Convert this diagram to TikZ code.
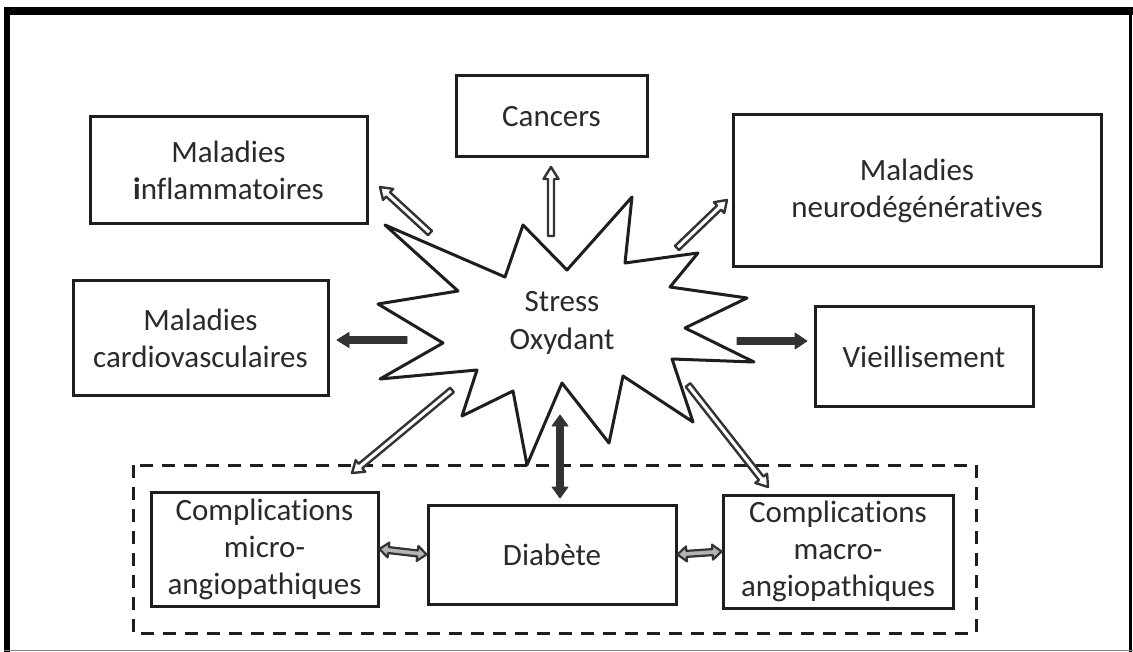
\documentclass[tikz,border=0pt]{standalone}
\usepackage{fontspec}
\setmainfont{Carlito}[Ligatures=NoCommon]
\usetikzlibrary{calc}
\definecolor{ink}{HTML}{1E1E1E}
\definecolor{txt}{HTML}{2A2A2A}
\definecolor{arrowink}{HTML}{333333}
\definecolor{arrowgray}{HTML}{B4B4B4}

% single-headed block arrow: #1 style, #2 tail, #3 tip, #4 half shaft, #5 half head, #6 head length
\newcommand\blkarrow[6]{%
  \coordinate (bah) at ($(#3)!#6!(#2)$);
  \path[#1] ($(#2)!#4!90:(#3)$) -- ($(bah)!#4!90:(#3)$) -- ($(bah)!#5!90:(#3)$) -- (#3)
    -- ($(bah)!#5!-90:(#3)$) -- ($(bah)!#4!-90:(#3)$) -- ($(#2)!#4!-90:(#3)$) -- cycle;
}
% double-headed block arrow
\newcommand\blkdarrow[6]{%
  \coordinate (bahA) at ($(#3)!#6!(#2)$);
  \coordinate (bahB) at ($(#2)!#6!(#3)$);
  \path[#1] (#2) -- ($(bahB)!#5!90:(#3)$) -- ($(bahB)!#4!90:(#3)$) -- ($(bahA)!#4!90:(#3)$)
    -- ($(bahA)!#5!90:(#3)$) -- (#3) -- ($(bahA)!#5!-90:(#3)$) -- ($(bahA)!#4!-90:(#3)$)
    -- ($(bahB)!#4!-90:(#3)$) -- ($(bahB)!#5!-90:(#3)$) -- cycle;
}

\begin{document}
\begin{tikzpicture}[x=1pt,y=-1pt,
  box/.style={draw=ink, line width=3pt, align=center, inner sep=0pt, text=txt,
    font=\fontsize{31}{37}\selectfont},
  hollow/.style={draw=arrowink, line width=2.4pt, fill=white, line join=round},
  hollowgray/.style={draw=arrowink, line width=2.2pt, fill=arrowgray, line join=round},
  solidarr/.style={draw=arrowink, fill=arrowink, line width=0.8pt, line join=round},
  dashbox/.style={draw=ink, line width=3pt, dash pattern=on 13pt off 9pt}
]
\useasboundingbox (0,0) rectangle (1133,652);
\fill[white] (0,0) rectangle (1133,652);
% outer frame
\fill[black] (4,7) rectangle (1133,15);
\fill[black] (4,7) rectangle (10,652);
\fill[black] (1129,7) rectangle (1132,652);
\draw[gray, line width=1.5pt] (4,650.5) -- (1133,650.5);

% boxes
\node[box, minimum width=277pt, minimum height=107pt] (infl) at (228.5,170.5) {Maladies\\\textbf{i}nflammatoires};
\node[box, minimum width=191pt, minimum height=81pt] (canc) at (551.5,116.5) {Cancers};
\node[box, minimum width=368pt, minimum height=152pt] (neuro) at (917,191) {Maladies\\neurodégénératives};
\node[box, minimum width=255pt, minimum height=114pt] (cardio) at (200.5,338) {Maladies\\cardiovasculaires};
\node[box, minimum width=218pt, minimum height=99pt] (vieil) at (924,356.5) {Vieillisement};
\node[box, minimum width=227pt, minimum height=114pt] (micro) at (264.5,549) {Complications\\micro-\\angiopathiques};
\node[box, minimum width=248pt, minimum height=99pt] (diab) at (552,554.5) {Diabète};
\node[box, minimum width=230pt, minimum height=113pt] (macro) at (838,551.5) {Complications\\macro-\\angiopathiques};

% dashed group
\draw[dashbox] (133,465) rectangle (976,633);

% star
\draw[ink, line width=3pt, line join=round, fill=white]
  (385,225) -- (505,277) -- (523,225) -- (567,270) -- (632,197) -- (625,263)
  -- (698,253) -- (670,287) -- (747,298) -- (685,328) -- (754,362) -- (672,359)
  -- (693,422) -- (623,376) -- (609,443) -- (562,383) -- (527,465) -- (513,391)
  -- (462,416) -- (477,370) -- (380,379) -- (443,343) -- (378,304) -- (458,291) -- cycle;
\node[text=txt, align=center, font=\fontsize{31}{38}\selectfont] (stress) at (562,323) {Stress\\Oxydant};

% arrow end points
\coordinate (aI1) at (430,233); \coordinate (aI2) at (380,187);
\coordinate (aC1) at (551,236); \coordinate (aC2) at (551,167);
\coordinate (aN1) at (677,248); \coordinate (aN2) at (727,200);
\coordinate (aCV1) at (407,340); \coordinate (aCV2) at (337,340);
\coordinate (aVi1) at (737,341); \coordinate (aVi2) at (807,341);
\coordinate (aMi1) at (452,390); \coordinate (aMi2) at (352,473);
\coordinate (aMa1) at (688,385); \coordinate (aMa2) at (768,487);
\coordinate (aD1) at (560,415); \coordinate (aD2) at (560,498);

% hollow arrows
\blkarrow{hollow}{aI1}{aI2}{2.9pt}{7.5pt}{11pt}
\blkarrow{hollow}{aC1}{aC2}{3pt}{7.5pt}{12pt}
\blkarrow{hollow}{aN1}{aN2}{2.9pt}{7.5pt}{11pt}
\blkarrow{hollow}{aMi1}{aMi2}{2.9pt}{7.5pt}{11pt}
\blkarrow{hollow}{aMa1}{aMa2}{2.9pt}{7.5pt}{11pt}
% filled arrows
\blkarrow{solidarr}{aCV1}{aCV2}{3.4pt}{7.5pt}{12pt}
\blkarrow{solidarr}{aVi1}{aVi2}{3.4pt}{8pt}{12pt}
\blkdarrow{solidarr}{aD1}{aD2}{3.4pt}{8pt}{11pt}
% bottom double arrows
\blkdarrow{hollowgray}{micro.east}{diab.west}{3pt}{7.5pt}{9pt}
\blkdarrow{hollowgray}{diab.east}{macro.west}{3pt}{7.5pt}{9pt}
\end{tikzpicture}
\end{document}
